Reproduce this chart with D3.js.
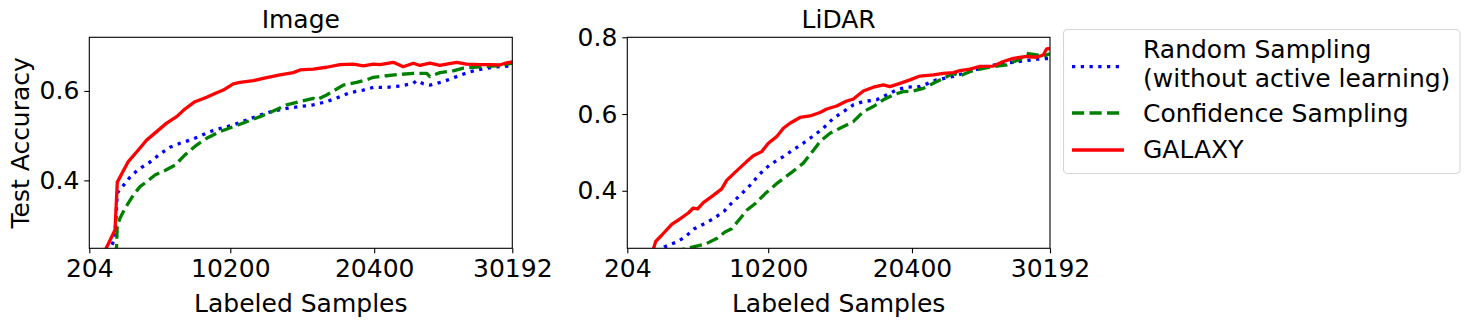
<!DOCTYPE html>
<html>
<head>
<meta charset="utf-8">
<script src="https://cdn.jsdelivr.net/npm/d3@7"></script>
<style>
  body { margin: 0; background: #fff; }
  svg { font-family: "DejaVu Sans", sans-serif; }
</style>
</head>
<body>
<div id="chart"></div>
<script>
// values: [labeled samples, test accuracy]
const xTicks = [204, 10200, 20400, 30192];

const imageRandom = [[204,0.15],[2026,0.27],[2189,0.372],[2451,0.382],[2784,0.395],[3089,0.407],[3493,0.419],[3919,0.429],[4387,0.438],[4791,0.448],[5216,0.459],[5922,0.474],[6631,0.483],[7340,0.490],[8049,0.499],[8758,0.509],[9467,0.516],[10412,0.524],[11357,0.535],[12302,0.546],[13248,0.555],[14193,0.561],[15138,0.565],[16083,0.569],[17028,0.576],[17974,0.587],[18683,0.596],[19628,0.602],[20337,0.608],[21282,0.608],[22227,0.611],[23172,0.617],[23409,0.623],[23881,0.616],[24354,0.613],[25299,0.621],[26245,0.632],[27190,0.643],[27899,0.648],[29080,0.654],[30192,0.656]];
const imageConfidence = [[204,0.10],[2026,0.15],[2189,0.300],[2380,0.315],[2685,0.334],[2969,0.349],[3323,0.367],[3798,0.386],[4273,0.397],[4862,0.412],[5570,0.422],[6279,0.434],[6988,0.457],[7813,0.479],[8522,0.494],[9467,0.509],[10412,0.520],[11357,0.531],[12302,0.5425],[13248,0.555],[14193,0.569],[15138,0.576],[16083,0.5835],[16319,0.580],[17028,0.591],[18210,0.613],[19155,0.619],[19864,0.625],[20337,0.6305],[21282,0.634],[22227,0.637],[23172,0.6395],[24118,0.6395],[24354,0.632],[25063,0.641],[26008,0.645],[26717,0.651],[27899,0.654],[29080,0.656],[30192,0.662]];
const imageGalaxy = [[204,0.17],[2026,0.289],[2189,0.396],[2969,0.442],[3678,0.468],[4268,0.490],[4977,0.509],[5686,0.528],[6395,0.5425],[6986,0.5597],[7695,0.576],[8522,0.586],[9231,0.596],[9703,0.602],[10412,0.616],[10885,0.619],[11830,0.623],[12775,0.630],[13720,0.636],[14666,0.641],[15138,0.647],[16083,0.649],[17028,0.653],[17974,0.659],[18919,0.660],[19628,0.656],[20337,0.660],[20810,0.659],[21755,0.664],[22463,0.654],[23172,0.662],[23645,0.657],[24354,0.662],[25063,0.657],[25536,0.660],[26245,0.664],[26953,0.660],[27899,0.659],[28608,0.659],[29317,0.658],[29789,0.663],[30192,0.665]];

const lidarRandom = [[204,0.05],[2219,0.237],[2829,0.2535],[3709,0.2665],[4297,0.2795],[4957,0.301],[5666,0.314],[6305,0.327],[7085,0.347],[7560,0.366],[8199,0.388],[8908,0.414],[9618,0.444],[10326,0.468],[11272,0.489],[11982,0.507],[12691,0.524],[13401,0.543],[14110,0.563],[14820,0.589],[15529,0.606],[16239,0.624],[16948,0.6325],[17894,0.637],[18604,0.650],[19313,0.663],[20023,0.670],[20969,0.6715],[22151,0.689],[23334,0.698],[24516,0.711],[25699,0.724],[26881,0.732],[28064,0.737],[29246,0.743],[30192,0.745]];
const lidarConfidence = [[204,0.05],[2219,0.20],[3500,0.242],[4652,0.252],[5716,0.2605],[6546,0.2753],[7135,0.2925],[7610,0.301],[8199,0.327],[8674,0.349],[9263,0.366],[9972,0.392],[10916,0.422],[11867,0.448],[12691,0.472],[13164,0.494],[13874,0.528],[14583,0.550],[15293,0.563],[16239,0.580],[16948,0.606],[17658,0.6195],[18367,0.637],[19077,0.650],[19786,0.6585],[20496,0.660],[21205,0.667],[21915,0.680],[22624,0.693],[23334,0.706],[23807,0.699],[24516,0.711],[25226,0.717],[26172,0.724],[27118,0.728],[28064,0.743],[28537,0.758],[29246,0.754],[29719,0.751],[30192,0.757]];
const lidarGalaxy = [[204,0.02],[2219,0.268],[2644,0.284],[3354,0.3125],[3943,0.327],[4531,0.342],[4886,0.355],[5198,0.353],[5596,0.369],[6305,0.388],[6901,0.405],[7255,0.427],[7844,0.448],[8671,0.476],[9144,0.491],[9735,0.502],[10208,0.524],[10799,0.541],[11272,0.563],[11745,0.576],[12455,0.591],[13164,0.595],[13874,0.604],[14347,0.613],[15056,0.621],[15766,0.634],[16239,0.639],[16948,0.660],[17658,0.670],[18367,0.676],[18840,0.6715],[19550,0.680],[20259,0.689],[20969,0.699],[21915,0.702],[22624,0.706],[23334,0.708],[23807,0.713],[24516,0.717],[25226,0.724],[26172,0.725],[26881,0.737],[27591,0.745],[28537,0.750],[29246,0.748],[29719,0.754],[29956,0.770],[30192,0.771]];

const seriesNames = ["Random Sampling", "Confidence Sampling", "GALAXY"];

// styles
const lw = 3.3;
const styles = [
    {color: "blue", dash: `${lw * 1} ${lw * 1.65}`},
    {color: "green", dash: `${lw * 3.7} ${lw * 1.6}`},
    {color: "red", dash: null}
];

const svg = d3.select("#chart").append("svg")
    .attr("width", 1470)
    .attr("height", 320);

const fs = 25;

function panel(id, left, right, top, bottom, yDomain, yTicks, title, series, showYLabel) {
    const x = d3.scaleLinear().domain([204, 30192]).range([left, right]);
    const y = d3.scaleLinear().domain(yDomain).range([bottom, top]);

    svg.append("clipPath").attr("id", "clip-" + id)
      .append("rect")
        .attr("x", left).attr("y", top)
        .attr("width", right - left).attr("height", bottom - top);

    const line = d3.line().x(d => x(d[0])).y(d => y(d[1]));

    const g = svg.append("g").attr("clip-path", `url(#clip-${id})`);
    series.forEach((s, i) => {
        g.append("path")
            .datum(s)
            .attr("d", line)
            .attr("fill", "none")
            .attr("stroke", styles[i].color)
            .attr("stroke-width", lw)
            .attr("stroke-dasharray", styles[i].dash)
            .attr("stroke-linejoin", "round");
    });

    // axes
    const xAxis = d3.axisBottom(x).tickValues(xTicks).tickFormat(d3.format("d"))
        .tickSize(5).tickPadding(6);
    const gx = svg.append("g").attr("transform", `translate(0,${bottom})`).call(xAxis);
    gx.select(".domain").remove();
    gx.selectAll("text").attr("font-size", fs).attr("font-family", "DejaVu Sans").attr("fill", "#000");
    gx.selectAll("line").attr("stroke", "#000").attr("stroke-width", 1.1);

    const yAxis = d3.axisLeft(y).tickValues(yTicks).tickFormat(d3.format(".1f"))
        .tickSize(5).tickPadding(5);
    const gy = svg.append("g").attr("transform", `translate(${left},0)`).call(yAxis);
    gy.select(".domain").remove();
    gy.selectAll("text").attr("font-size", fs).attr("font-family", "DejaVu Sans").attr("fill", "#000");
    gy.selectAll("line").attr("stroke", "#000").attr("stroke-width", 1.1);

    svg.append("rect")
        .attr("x", left).attr("y", top)
        .attr("width", right - left).attr("height", bottom - top)
        .attr("fill", "none").attr("stroke", "#000").attr("stroke-width", 1.1);

    svg.append("text")
        .attr("x", (left + right) / 2).attr("y", 28.3)
        .attr("text-anchor", "middle").attr("font-size", fs)
        .text(title);

    svg.append("text")
        .attr("x", (left + right) / 2).attr("y", 312)
        .attr("text-anchor", "middle").attr("font-size", fs)
        .text("Labeled Samples");

    if (showYLabel) {
        svg.append("text")
            .attr("transform", `translate(28.5,${(top + bottom) / 2}) rotate(-90)`)
            .attr("text-anchor", "middle").attr("font-size", fs)
            .text("Test Accuracy");
    }
}

panel("img", 89.3, 512.3, 37.3, 248.3, [0.248, 0.72], [0.4, 0.6], "Image",
      [imageRandom, imageConfidence, imageGalaxy], true);
panel("lidar", 627.3, 1050, 37.3, 248.3, [0.25, 0.8], [0.4, 0.6, 0.8], "LiDAR",
      [lidarRandom, lidarConfidence, lidarGalaxy], false);

// legend
const leg = svg.append("g");
leg.append("rect")
    .attr("x", 1063.5).attr("y", 29.5)
    .attr("width", 396.5).attr("height", 144)
    .attr("rx", 4)
    .attr("fill", "#fff").attr("stroke", "#d6d6d6").attr("stroke-width", 1.1);

const legendRows = [
    {lineY: 66.7, text: ["Random Sampling", "(without active learning)"], baselines: [58.3, 87]},
    {lineY: 113, text: ["Confidence Sampling"], baselines: [121.7]},
    {lineY: 150, text: ["GALAXY"], baselines: [158.3]}
];
legendRows.forEach((r, i) => {
    leg.append("line")
        .attr("x1", 1072).attr("x2", 1124)
        .attr("y1", r.lineY).attr("y2", r.lineY)
        .attr("stroke", styles[i].color)
        .attr("stroke-width", lw)
        .attr("stroke-dasharray", styles[i].dash);
    r.text.forEach((t, j) => {
        leg.append("text")
            .attr("x", 1143).attr("y", r.baselines[j])
            .attr("font-size", fs)
            .text(t);
    });
});
</script>
</body>
</html>
